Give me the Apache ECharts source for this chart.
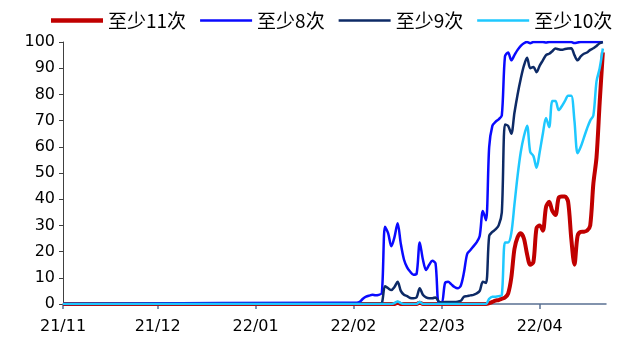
<!DOCTYPE html>
<html>
<head>
<meta charset="utf-8">
<script src="https://cdn.jsdelivr.net/npm/echarts@6/dist/echarts.min.js"></script>
<style>
  html, body { margin: 0; padding: 0; background: #fff; }
  #chart { width: 627px; height: 344px; }
</style>
</head>
<body>
<div id="chart"></div>
<script>
// axis range and first day of the daily data
const axisStart = '2021-11-01'
const axisEnd = '2022-04-22'
const dataStart = '2022-01-28'
const names = ['至少11次', '至少8次', '至少9次', '至少10次']

// daily values from 2022-01-28 to 2022-04-21 (all series are 0 before)
const v11 = [
  0, 0, 0, 0,
  0, 0, 0, 0, 0, 0, 0, 0, 0, 0, 0, 0, 0, 0, 0.5, 0, 0, 0, 0, 0, 0, 0.5, 0, 0, 0, 0, 0, 0,
  0, 0, 0, 0, 0, 0, 0, 0, 0, 0, 0, 0, 0, 0, 0, 0.3, 0.8, 1.3, 1.5, 2, 2.5, 4, 10, 21, 25.5, 27, 25, 19, 15, 16, 29,
  30, 28, 37, 39, 35.5, 34, 40.5, 41, 41, 39, 25, 15, 26, 27.5, 27.6, 28, 30, 46, 56, 77, 96
]
const v8 = [
  0.5, 0.5, 0.5, 0.5,
  0.5, 0.5, 0.8, 2, 2.8, 3.2, 3.5, 3.3, 3.5, 4.2, 29.5, 27, 22, 25.5, 30.8, 23, 17, 14, 12.3, 11.2, 11.5, 23.5, 17, 13, 15, 16.5, 15.5, 0.5,
  0.5, 8, 8.5, 7.5, 6.5, 6, 7, 12, 19, 20.5, 22, 23.5, 26, 35.5, 32, 60, 68, 69.5, 70.5, 72, 94.5, 96, 93, 95, 97, 98.5, 99.5, 100, 99.5, 100, 100,
  100, 100, 99.8, 100, 100, 100, 100, 100, 100, 100, 100, 99.6, 99.8, 100, 100, 100, 100, 100, 100, 100, 100
]
const v9 = [
  0, 0, 0, 0,
  0, 0, 0, 0, 0, 0, 0, 0, 0, 0.3, 6.8, 6, 5.3, 6.5, 8.5, 5, 3.5, 3, 2.3, 2.2, 2.5, 6, 3.5, 2.5, 2.2, 2.2, 2.5, 1,
  0.6, 0.8, 0.8, 0.8, 0.8, 0.9, 1.2, 2.8, 3, 3.3, 3.5, 4, 5, 8.5, 8, 26, 27.5, 28.5, 30, 35, 68.5, 68, 65, 73, 80, 86, 91, 94, 90, 90.5, 88.5,
  91, 93, 95, 95.5, 96.5, 97.5, 97.2, 97, 97.3, 97.5, 97.6, 95, 93, 94.5, 95.5, 96, 97, 97.6, 98.5, 99.5, 100
]
const v10 = [
  0, 0, 0, 0,
  0, 0, 0, 0, 0, 0, 0, 0, 0, 0, 0, 0, 0, 0.3, 1, 0.3, 0, 0, 0, 0, 0, 0.8, 0, 0, 0, 0, 0, 0,
  0, 0, 0, 0, 0, 0, 0, 0, 0, 0, 0, 0, 0, 0, 0, 2, 2.8, 2.8, 3, 3.4, 23.5, 23.5, 27, 38, 49, 58, 64, 68, 58, 56.5, 52,
  58, 65, 71, 67.5, 77.5, 77.5, 74, 75.5, 77.5, 79.5, 79.5, 70, 57.5, 60, 63.5, 67, 70, 72, 85, 90, 97.5
]

function fmt(d) {
  const m = d.getMonth() + 1, day = d.getDate()
  return d.getFullYear() + '-' + (m < 10 ? '0' + m : m) + '-' + (day < 10 ? '0' + day : day)
}
function dayList(from, to) {
  const out = []
  const d = new Date(from + 'T00:00:00')
  const end = new Date(to + 'T00:00:00')
  while (d <= end) {
    out.push(fmt(d))
    d.setDate(d.getDate() + 1)
  }
  return out
}

const categories = dayList(axisStart, axisEnd)
const dataDays = dayList(dataStart, '2022-04-21')
function pairs(vals) {
  return [[axisStart, 0]].concat(dataDays.map((d, i) => [d, vals[i]]))
}
const isMonthStart = (i, v) => v.slice(8) === '01'

// legend icons: flat bars, the red one thicker
const thickBar = 'path://M0,0H52V4.5H0Z'
const thinBar = 'path://M0,0H52V2.5H0Z'

let chart = echarts.init(document.getElementById('chart'))
chart.setOption({
  animation: false,
  textStyle: { fontFamily: 'DejaVu Sans, sans-serif' },
  legend: {
    top: 6,
    left: 46,
    itemWidth: 52,
    itemHeight: 12,
    itemGap: 14,
    data: [
      { name: names[0], icon: thickBar },
      { name: names[1], icon: thinBar },
      { name: names[2], icon: thinBar },
      { name: names[3], icon: thinBar }
    ],
    textStyle: { fontSize: 19, color: '#000', fontFamily: 'Noto Sans CJK SC' }
  },
  grid: { left: 63, right: 21, top: 42, bottom: 40, containLabel: false },
  xAxis: {
    type: 'category',
    data: categories,
    boundaryGap: false,
    axisLine: { lineStyle: { color: '#5a7093', width: 1.5 } },
    axisTick: { interval: isMonthStart, length: 5, lineStyle: { color: '#5a7093', width: 1.5 } },
    axisLabel: {
      interval: isMonthStart,
      margin: 15,
      fontSize: 16,
      color: '#000',
      formatter: v => v.slice(2, 4) + '/' + v.slice(5, 7)
    },
    splitLine: { show: false }
  },
  yAxis: {
    type: 'value',
    min: 0,
    max: 100,
    interval: 10,
    axisLine: { show: true, lineStyle: { color: '#404040' } },
    axisTick: { show: true, length: 4, lineStyle: { color: '#404040' } },
    axisLabel: { fontSize: 16, color: '#000', margin: 8 },
    splitLine: { show: false }
  },
  series: [
    { name: names[0], type: 'line', data: pairs(v11), symbol: 'none', smooth: 0.3,
      lineStyle: { color: '#c00000', width: 4 }, itemStyle: { color: '#c00000' } },
    { name: names[1], type: 'line', data: pairs(v8), symbol: 'none', smooth: 0.3,
      lineStyle: { color: '#0a0aff', width: 2.5 }, itemStyle: { color: '#0a0aff' } },
    { name: names[2], type: 'line', data: pairs(v9), symbol: 'none', smooth: 0.3,
      lineStyle: { color: '#0d2a66', width: 2.5 }, itemStyle: { color: '#0d2a66' } },
    { name: names[3], type: 'line', data: pairs(v10), symbol: 'none', smooth: 0.3,
      lineStyle: { color: '#1ec8ff', width: 2.5 }, itemStyle: { color: '#1ec8ff' } }
  ]
})
</script>
</body>
</html>
